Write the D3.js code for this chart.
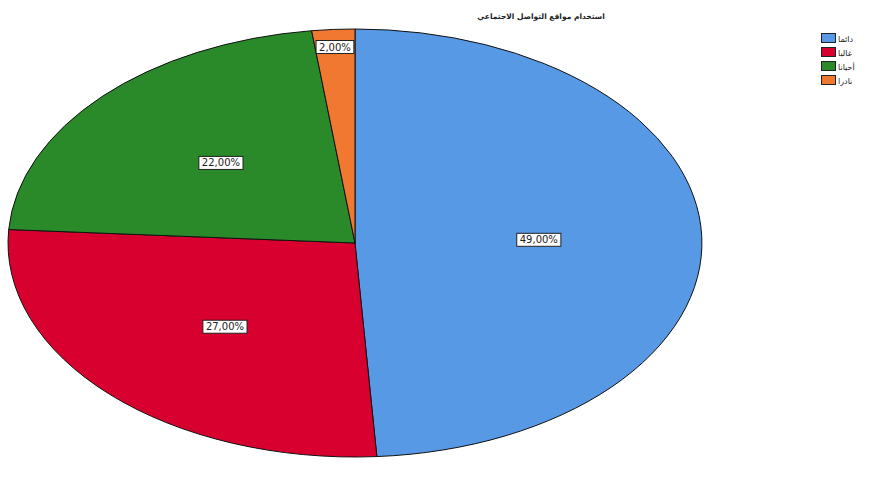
<!DOCTYPE html>
<html><head><meta charset="utf-8">
<script src="https://cdn.jsdelivr.net/npm/d3@7"></script>
<style>body{margin:0;background:#fff}svg{display:block}</style>
</head><body><svg id="c" width="871" height="487"></svg>
<script>
const title = "استخدام مواقع التواصل الاجتماعي";
const categories = ["دائما", "غالبا", "أحيانا", "نادرا"];
const values = [49, 27, 22, 2];
const colors = ["#5799E4", "#D8002F", "#2A8A2A", "#F07830"];

const svg = d3.select("#c");
const cx = 355, cy = 243, rx = 347, ry = 214;

svg.append("text").attr("x", 541).attr("y", 19).attr("text-anchor", "middle")
  .attr("font-family", "DejaVu Sans, sans-serif").attr("font-size", 7.5).attr("font-weight", "bold")
  .attr("fill", "#222").text(title);

const pie = d3.pie().sort(null).value(d => d);
const arcs = pie(values);
const arc = d3.arc().innerRadius(0).outerRadius(1);

const g = svg.append("g").attr("transform", `translate(${cx},${cy}) scale(${rx},${ry})`);
g.selectAll("path").data(arcs).join("path")
  .attr("d", arc).attr("fill", (d, i) => colors[i])
  .attr("stroke", "#111").attr("stroke-width", 1).attr("vector-effect", "non-scaling-stroke");

const fmt = v => d3.format(".2f")(v).replace(".", ",") + "%";
const lg = svg.append("g");
arcs.forEach((a, i) => {
  const mid = (a.startAngle + a.endAngle) / 2;
  const small = (a.endAngle - a.startAngle) < 0.3;
  const fx = small ? 0.92 : 0.53, fy = small ? 0.92 : 0.55;
  const x = cx + Math.sin(mid) * rx * fx;
  const y = cy - Math.cos(mid) * ry * fy;
  const t = lg.append("text").attr("x", x).attr("y", y + 4).attr("text-anchor", "middle")
    .attr("font-family", "DejaVu Sans, sans-serif").attr("font-size", 10).attr("fill", "#222")
    .text(fmt(values[i]));
  const bb = t.node().getBBox();
  lg.insert("rect", "text").attr("x", bb.x - 3).attr("y", bb.y - 1).attr("width", bb.width + 6).attr("height", bb.height + 2)
    .attr("fill", "#fff").attr("stroke", "#222").attr("stroke-width", 1);
});

const leg = svg.append("g");
categories.forEach((c, i) => {
  const y = 33 + i * 14;
  leg.append("rect").attr("x", 821.5).attr("y", y + 0.5).attr("width", 14).attr("height", 9)
    .attr("fill", colors[i]).attr("stroke", "#222").attr("stroke-width", 1);
  leg.append("text").attr("x", 838).attr("y", y + 9).attr("font-family", "DejaVu Sans, sans-serif")
    .attr("font-size", 8).attr("fill", "#222").text(c);
});
</script></body></html>
